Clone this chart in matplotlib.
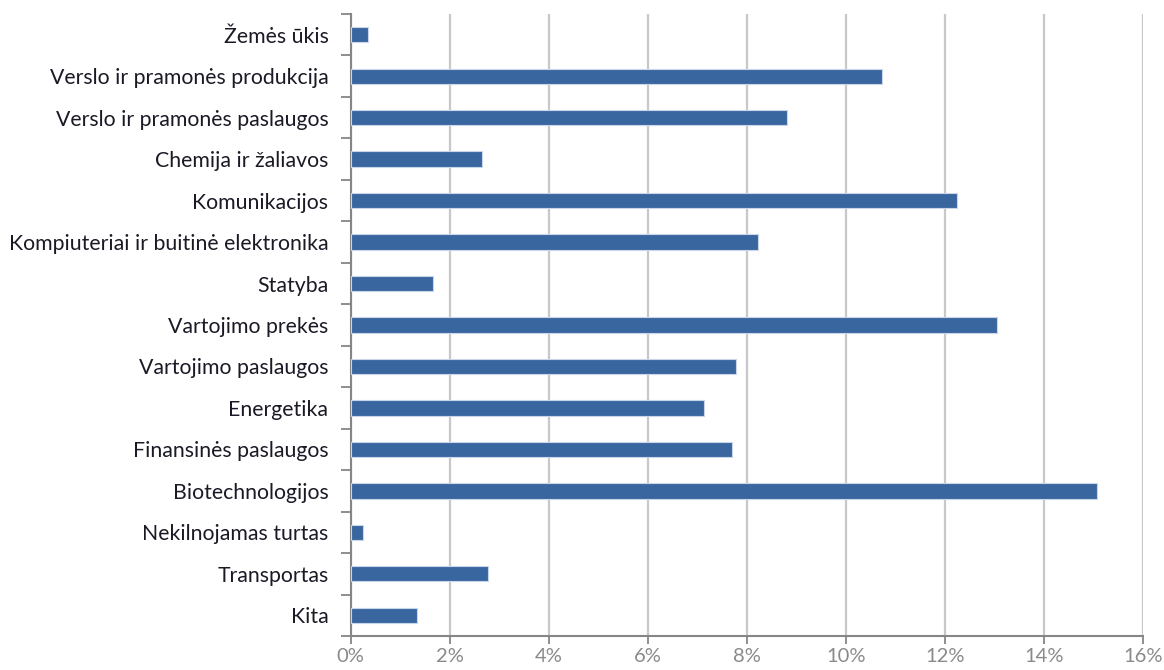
import matplotlib
matplotlib.use("Agg")
import matplotlib.pyplot as plt
import numpy as np
from matplotlib.ticker import FixedLocator, PercentFormatter

sectors = [
    "Žemės ūkis",
    "Verslo ir pramonės produkcija",
    "Verslo ir pramonės paslaugos",
    "Chemija ir žaliavos",
    "Komunikacijos",
    "Kompiuteriai ir buitinė elektronika",
    "Statyba",
    "Vartojimo prekės",
    "Vartojimo paslaugos",
    "Energetika",
    "Finansinės paslaugos",
    "Biotechnologijos",
    "Nekilnojamas turtas",
    "Transportas",
    "Kita",
]
shares = [0.34, 10.72, 8.82, 2.66, 12.25, 8.22, 1.67, 13.05,
          7.79, 7.13, 7.69, 15.07, 0.24, 2.77, 1.34]
x_ticks = [0, 2, 4, 6, 8, 10, 12, 14, 16]

plt.rcParams['font.family'] = ['Lato', 'DejaVu Sans']

fig = plt.figure(figsize=(11.64, 6.70), dpi=100)
ax = fig.add_axes([0.3013, 0.0507, 0.6807, 0.9284])

pos = np.arange(len(sectors))
ax.barh(pos, shares, height=0.37, color="#3a66a0",
        edgecolor="#c9d6ea", linewidth=0.8, zorder=3)

ax.set_ylim(len(sectors) - 0.5, -0.5)
ax.set_xlim(0, 16)

ax.set_yticks(pos)
ax.set_yticklabels(sectors, fontsize=15.3, color="#1a1a26")
ax.yaxis.set_minor_locator(FixedLocator(np.arange(-0.5, len(sectors), 1.0)))
ax.tick_params(axis="y", which="major", length=0, pad=16)
ax.tick_params(axis="y", which="minor", length=7, width=1.3, color="#868686")

ax.set_xticks(x_ticks)
ax.xaxis.set_major_formatter(PercentFormatter(decimals=0))
ax.tick_params(axis="x", which="major", length=6, width=1.3, color="#868686",
               labelsize=14.5, labelcolor="#8a8a8a", pad=2.5)

ax.grid(axis="x", color="#c8c8c8", linewidth=1.6, zorder=0)
ax.set_axisbelow(True)

for side in ("top", "right"):
    ax.spines[side].set_visible(False)
for side in ("left", "bottom"):
    ax.spines[side].set_color("#868686")
    ax.spines[side].set_linewidth(1.5)

fig.savefig("out.png", dpi=100, facecolor="white")
